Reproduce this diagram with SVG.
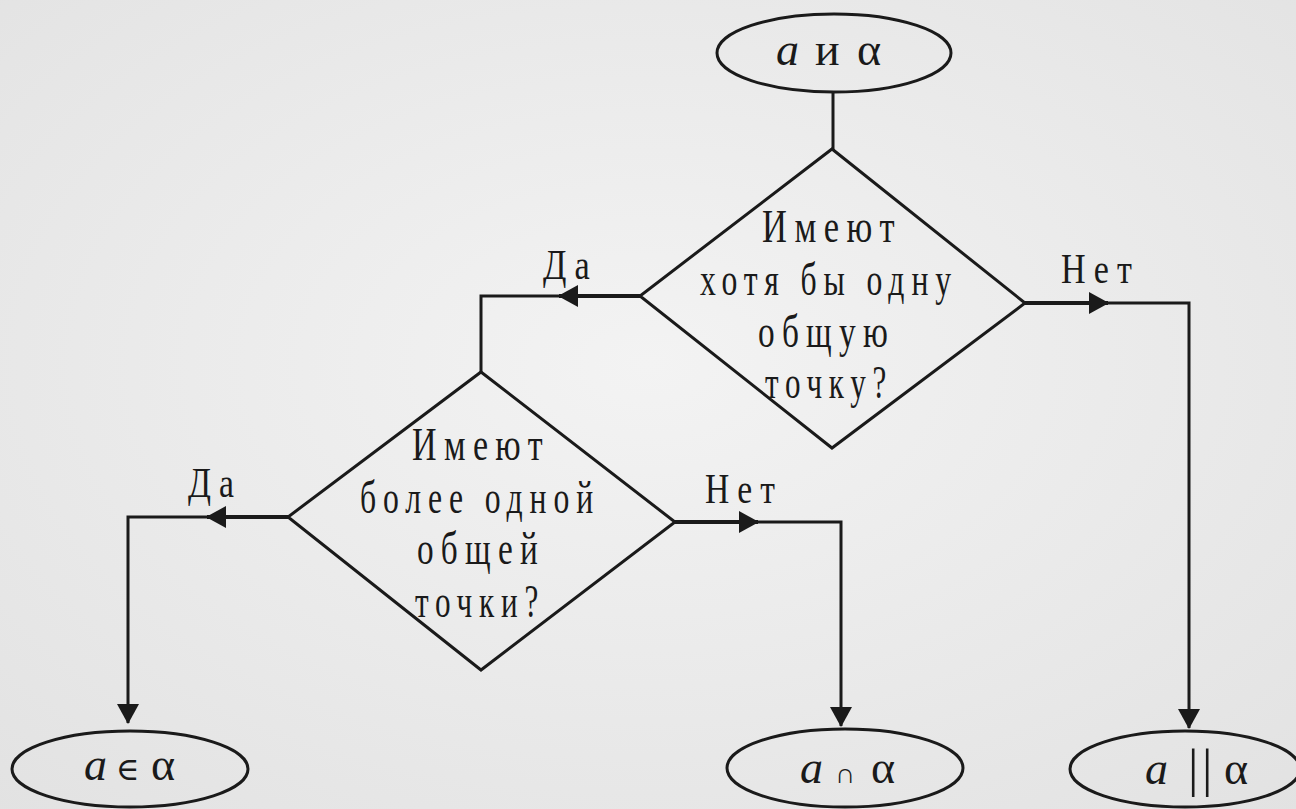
<svg xmlns="http://www.w3.org/2000/svg" width="1296" height="809" viewBox="0 0 1296 809">
<defs>
<radialGradient id="bg" cx="50%" cy="45%" r="75%">
<stop offset="0" stop-color="#f3f3f3"/>
<stop offset="1" stop-color="#e2e2e2"/>
</radialGradient>
<marker id="arr" markerUnits="userSpaceOnUse" markerWidth="20" markerHeight="22" refX="19" refY="11" orient="auto" viewBox="0 0 20 22">
<path d="M0,0 L20,11 L0,22 z" fill="#1a1a1a"/>
</marker>
</defs>
<style>
.shape{fill:none;stroke:#1a1a1a;stroke-width:3}
.ln{fill:none;stroke:#1a1a1a;stroke-width:3}
.thick{stroke-width:4}
text{fill:#1a1a1a;font-family:"Liberation Serif","Times New Roman",serif}
.t{font-size:46px;letter-spacing:10px}
.lab{font-size:42px;letter-spacing:10px}
.m{font-size:46px}
.i{font-style:italic}
</style>
<rect x="0" y="0" width="1296" height="809" fill="url(#bg)"/>

<g id="connectors">
<path class="ln" d="M833,92 L833,150"/>
<path class="ln thick" d="M640,296 L559,296" marker-end="url(#arr)"/>
<path class="ln" d="M561,296 L481,296 L481,372"/>
<path class="ln thick" d="M1025,303 L1108,303" marker-end="url(#arr)"/>
<path class="ln" d="M1106,303 L1189,303 L1189,728" marker-end="url(#arr)"/>
<path class="ln thick" d="M288,517 L207,517" marker-end="url(#arr)"/>
<path class="ln" d="M209,517 L128,517 L128,723" marker-end="url(#arr)"/>
<path class="ln thick" d="M675,522 L758,522" marker-end="url(#arr)"/>
<path class="ln" d="M756,522 L841,522 L841,726" marker-end="url(#arr)"/>
<text class="lab" transform="scale(0.7,1)" x="775.7" y="279" textLength="78.6" lengthAdjust="spacingAndGlyphs">Да</text>
<text class="lab" transform="scale(0.7,1)" x="1515.7" y="283" textLength="112.9" lengthAdjust="spacingAndGlyphs">Нет</text>
<text class="lab" transform="scale(0.7,1)" x="268.6" y="497" textLength="77.1" lengthAdjust="spacingAndGlyphs">Да</text>
<text class="lab" transform="scale(0.7,1)" x="1007.1" y="503" textLength="111.4" lengthAdjust="spacingAndGlyphs">Нет</text>
</g>

<g id="start">
<ellipse class="shape" cx="834" cy="53" rx="117" ry="39"/>
<text class="m" y="65"><tspan class="i" x="776">a</tspan> <tspan x="815">и</tspan> <tspan x="857">α</tspan></text>
</g>

<g id="decision1">
<polygon class="shape" points="832,149 1025,303 832,448 640,296"/>
<text class="t" transform="scale(0.7,1)" x="1088.6" y="242" textLength="200" lengthAdjust="spacingAndGlyphs">Имеют</text>
<text class="t" transform="scale(0.7,1)" x="1000" y="295" textLength="368.6" lengthAdjust="spacingAndGlyphs">хотя бы одну</text>
<text class="t" transform="scale(0.7,1)" x="1082.9" y="347" textLength="195.7" lengthAdjust="spacingAndGlyphs">общую</text>
<text class="t" transform="scale(0.7,1)" x="1092.9" y="398" textLength="182.9" lengthAdjust="spacingAndGlyphs">точку?</text>
</g>

<g id="decision2">
<polygon class="shape" points="481,372 675,522 481,670 288,517"/>
<text class="t" transform="scale(0.7,1)" x="588.6" y="460" textLength="197.1" lengthAdjust="spacingAndGlyphs">Имеют</text>
<text class="t" transform="scale(0.7,1)" x="514.3" y="513" textLength="342.9" lengthAdjust="spacingAndGlyphs">более одной</text>
<text class="t" transform="scale(0.7,1)" x="595.7" y="564" textLength="182.9" lengthAdjust="spacingAndGlyphs">общей</text>
<text class="t" transform="scale(0.7,1)" x="592.9" y="617" textLength="185.7" lengthAdjust="spacingAndGlyphs">точки?</text>
</g>

<g id="result-in">
<ellipse class="shape" cx="130" cy="769" rx="118" ry="38"/>
<text class="m" y="780"><tspan class="i" x="84">a</tspan> <tspan x="116" font-family="'DejaVu Serif', serif" font-size="32">∈</tspan> <tspan x="151">α</tspan></text>
</g>

<g id="result-intersect">
<ellipse class="shape" cx="845" cy="768" rx="118" ry="39"/>
<text class="m" y="783"><tspan class="i" x="800">a</tspan> <tspan x="835" font-size="28">∩</tspan> <tspan x="871">α</tspan></text>
</g>

<g id="result-parallel">
<ellipse class="shape" cx="1185" cy="769" rx="115" ry="38"/>
<text class="m" y="784"><tspan class="i" x="1145">a</tspan> <tspan x="1188" y="786" font-size="52">|</tspan><tspan x="1202" y="786" font-size="52">|</tspan> <tspan x="1224" y="784">α</tspan></text>
</g>
</svg>
